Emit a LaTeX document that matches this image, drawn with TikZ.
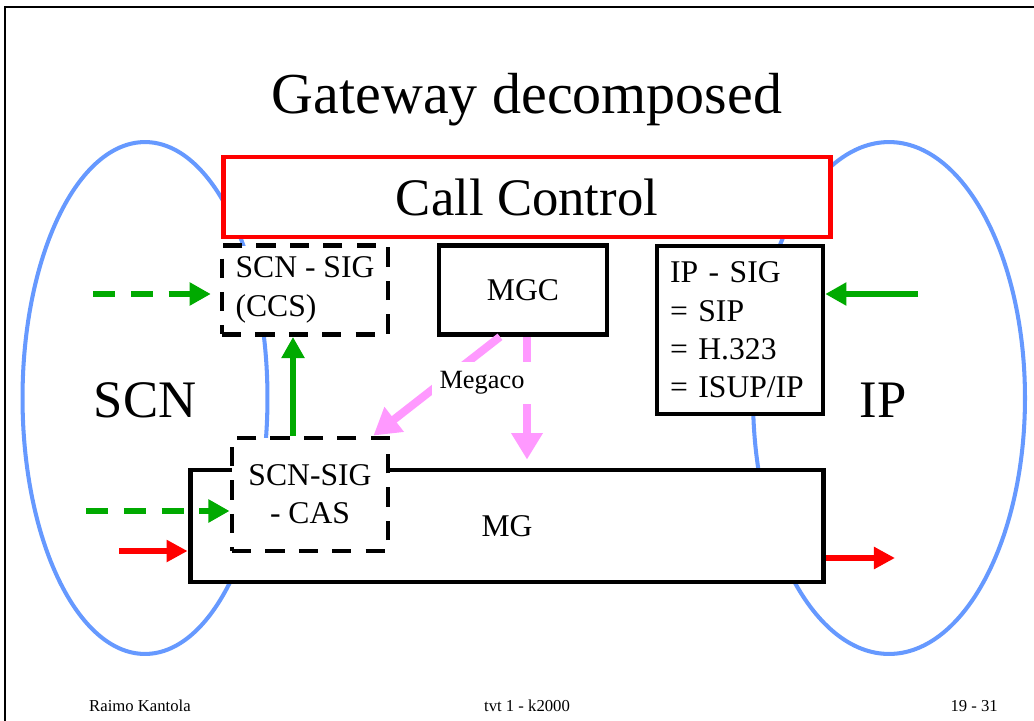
\documentclass[tikz,border=0pt]{standalone}
\usepackage{fontspec}
\setmainfont{Liberation Serif}
\usetikzlibrary{arrows.meta}
\usetikzlibrary{calc}

\definecolor{netblue}{RGB}{102,153,255}
\definecolor{siggreen}{RGB}{0,170,0}
\definecolor{megpink}{RGB}{255,153,255}
\definecolor{ctrlred}{RGB}{255,0,0}

\begin{document}
\begin{tikzpicture}[x=0.02cm, y=-0.02cm,
		netring/.style={draw=netblue, line width=2.3pt},
		solidbox/.style={draw, fill=white, line width=2.6pt, inner sep=0pt,
			font=\fontsize{18}{21.8}\selectfont},
		dashbox/.style={solidbox, line width=2.8pt, dash pattern=on 11pt off 8pt},
		sigline/.style={siggreen, line width=3.3pt,
			-{Triangle[length=12pt,width=12.5pt]}},
		sigdash/.style={sigline, dash pattern=on 12.5pt off 9pt},
		bearer/.style={ctrlred, line width=3.6pt,
			-{Triangle[length=12pt,width=12pt]}},
		megaco/.style={megpink, line width=4.6pt,
			-{Triangle[length=15pt,width=17pt]}},
		foot/.style={font=\fontsize{9.5}{11}\selectfont, anchor=base}]
		\useasboundingbox (0,0) rectangle (1034,720);
		%% The slide frame
		\draw[line width=1.1pt] (5,730) -- (5,7) -- (1040,7);
		\node[anchor=base, font=\fontsize{33}{38}\selectfont] (title)
			at (527,113) {Gateway decomposed};
		%% The two networks
		\draw[netring] (145,398) ellipse (2.45cm and 5.12cm);
		\draw[netring] (889,398) ellipse (2.72cm and 5.12cm);
		\node[font=\fontsize{30}{34}\selectfont] (scn) at (145,400) {SCN};
		\node[font=\fontsize{30}{34}\selectfont] (ip) at (883,400) {IP};
		%% The boxes
		\node[solidbox, draw=ctrlred, line width=2.8pt,
			minimum width=12.16cm, minimum height=1.6cm,
			font=\fontsize{30}{34}\selectfont] (cc) at (527,197) {Call Control};
		\node[dashbox, align=left, minimum width=3.32cm, minimum height=1.78cm]
			(ccs) at (305,290) {SCN - SIG\\(CCS)};
		\node[solidbox, minimum width=3.36cm, minimum height=1.78cm]
			(mgc) at (523,290) {MGC};
		\node[solidbox, align=left, text width=2.8cm,
			minimum width=3.32cm, minimum height=3.36cm]
			(ipsig) at (740,330) {IP - SIG\\= SIP\\= H.323\\= ISUP/IP};
		\node[solidbox, line width=2.8pt,
			minimum width=12.68cm, minimum height=2.24cm]
			(mg) at (507,526) {MG};
		\node[dashbox, align=center, minimum width=3.12cm, minimum height=2.26cm]
			(cas) at (310,494.5) {SCN-SIG\\- CAS};
		%% Signalling
		\coordinate (ccsin) at (93,294);
		\coordinate (casin) at (86,511);
		\coordinate (ipin) at (918,294);
		\draw[sigdash, shorten >=5pt] (ccsin) -- (ccsin -| ccs.west);
		\draw[sigdash] (casin) -- (casin -| cas.west);
		\draw[sigline] (ipin) -- (ipin -| ipsig.east);
		\draw[sigline] ($(cas.north)+(-17,0)$) coordinate (casup)
			-- (casup |- ccs.south);
		%% Bearer
		\coordinate (mgin) at (119,551);
		\coordinate (mgout) at (895,558);
		\draw[bearer] (mgin) -- (mgin -| mg.west);
		\draw[bearer] (mgout -| mg.east) -- (mgout);
		%% Megaco
		\draw[megaco] ($(mgc.south)+(-23,0)$) -- ($(cas.north east)+(-17,0)$);
		\draw[megaco] ($(mgc.south)+(4,0)$) -- ($(mg.north)+(20,-8)$);
		\node[fill=white, inner xsep=0.16cm, inner ysep=0.19cm,
			font=\fontsize{15}{17}\selectfont] (meg) at (482,383) {Megaco};
		%% Footer
		\node[foot, anchor=base west] (author) at (83,711) {Raimo Kantola};
		\node[foot] (course) at (527,711) {tvt 1 - k2000};
		\node[foot, anchor=base east] (page) at (1004,711) {19 - 31};
	\end{tikzpicture}
\end{document}
